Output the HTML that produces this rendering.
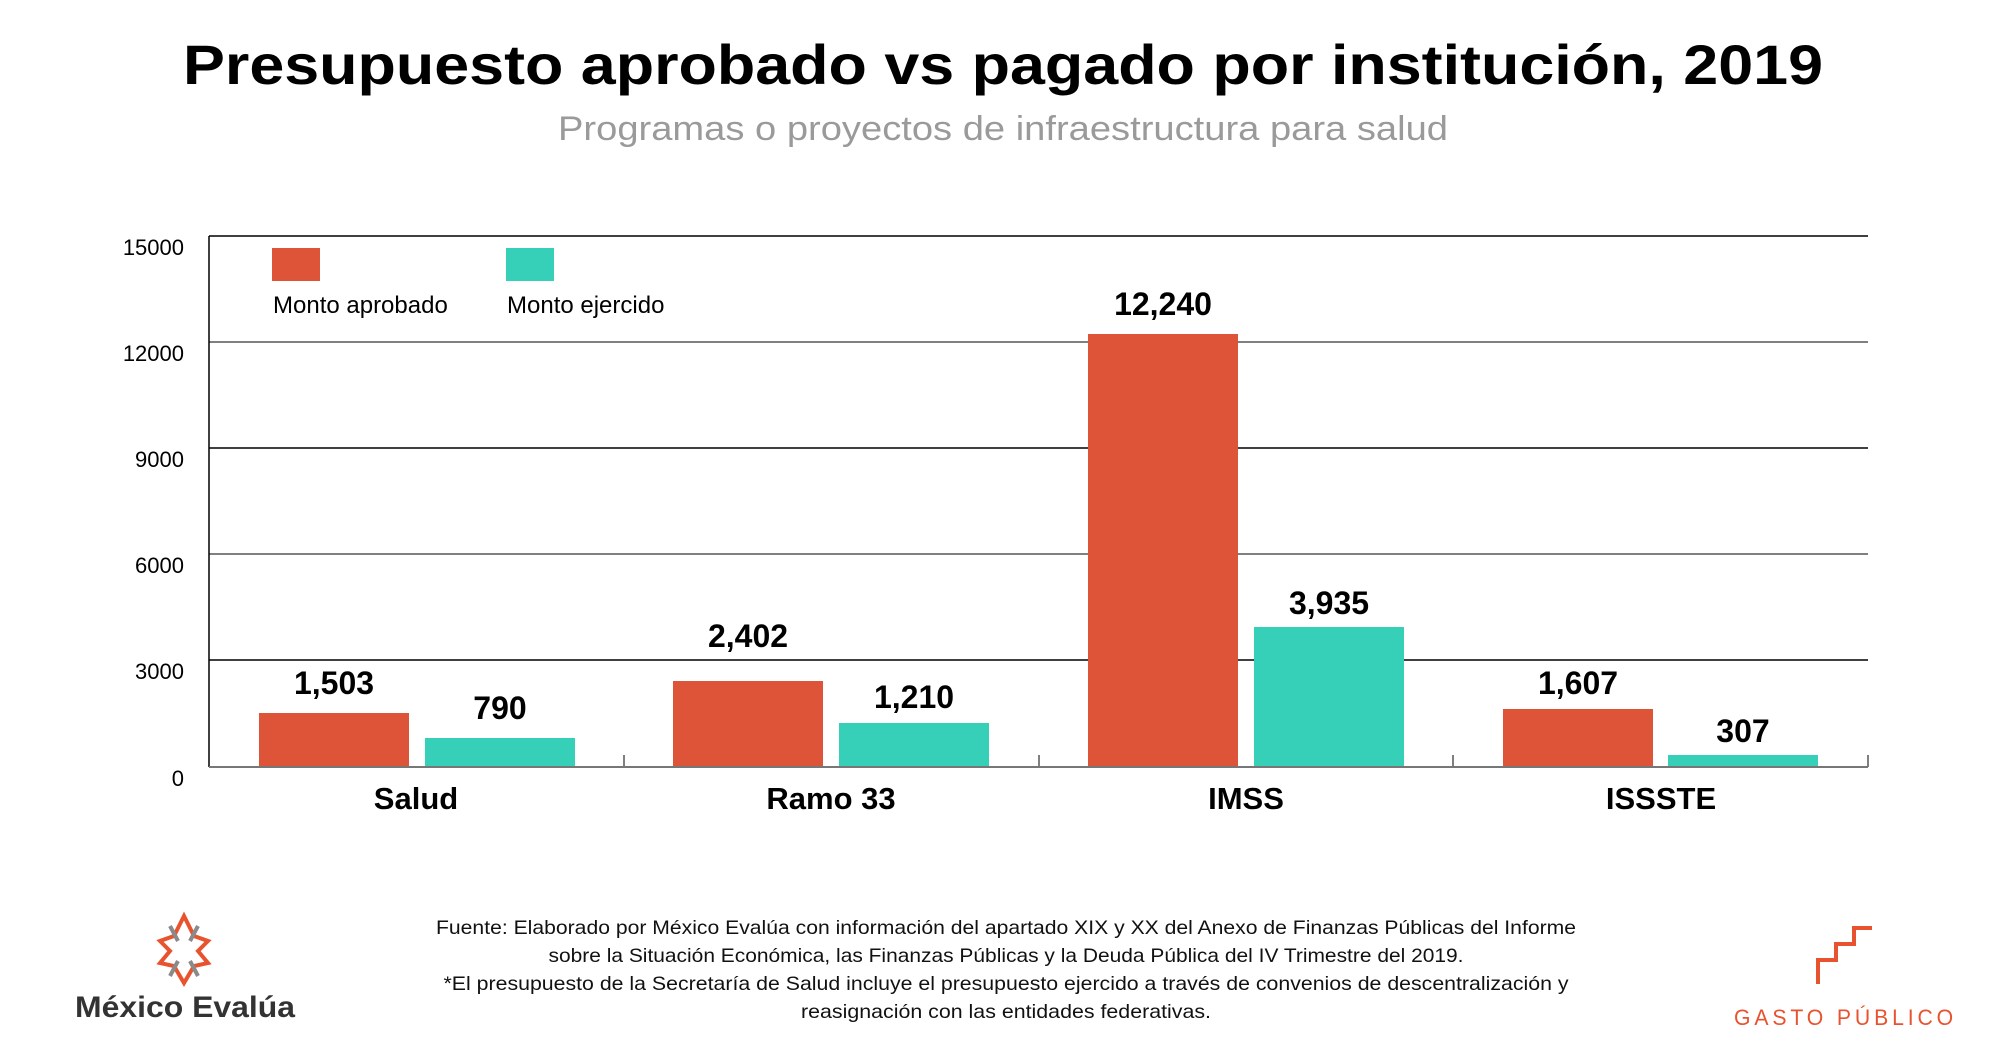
<!DOCTYPE html>
<html><head><meta charset="utf-8"><style>
html,body{margin:0;padding:0;background:#fff;}
svg{display:block;font-family:"Liberation Sans",sans-serif;}
</style></head><body>
<svg width="2000" height="1049" viewBox="0 0 2000 1049" xmlns="http://www.w3.org/2000/svg">
<text x="1003" y="84" text-anchor="middle" font-size="56" font-weight="bold" fill="#000" textLength="1640" lengthAdjust="spacingAndGlyphs">Presupuesto aprobado vs pagado por institución, 2019</text>
<text x="1003" y="140" text-anchor="middle" font-size="34" fill="#9a9a9a" textLength="890" lengthAdjust="spacingAndGlyphs">Programas o proyectos de infraestructura para salud</text>
<!-- grid -->
<line x1="209" y1="236" x2="1868" y2="236" stroke="#000" stroke-width="1.5"/>
<line x1="209" y1="342" x2="1868" y2="342" stroke="#808080" stroke-width="2"/>
<line x1="209" y1="448" x2="1868" y2="448" stroke="#000" stroke-width="1.5"/>
<line x1="209" y1="554" x2="1868" y2="554" stroke="#808080" stroke-width="2"/>
<line x1="209" y1="660" x2="1868" y2="660" stroke="#000" stroke-width="1.5"/>
<line x1="209" y1="236" x2="209" y2="767" stroke="#000" stroke-width="1.5"/>
<line x1="1868" y1="755" x2="1868" y2="767" stroke="#555" stroke-width="1.5"/>
<g stroke="#555" stroke-width="1.5"><line x1="624" y1="755" x2="624" y2="767"/><line x1="1039" y1="755" x2="1039" y2="767"/><line x1="1453" y1="755" x2="1453" y2="767"/></g>
<!-- y labels -->
<g font-size="22" fill="#000" text-anchor="end">
<text x="184" y="255">15000</text><text x="184" y="361">12000</text><text x="184" y="467">9000</text>
<text x="184" y="573">6000</text><text x="184" y="679">3000</text><text x="184" y="786">0</text>
</g>
<!-- bars -->
<g fill="#DE5439">
<rect x="259" y="713" width="150" height="53"/>
<rect x="673" y="681" width="150" height="85"/>
<rect x="1088" y="334" width="150" height="432"/>
<rect x="1503" y="709" width="150" height="57"/>
</g>
<g fill="#36CFB8">
<rect x="425" y="738" width="150" height="28"/>
<rect x="839" y="723" width="150" height="43"/>
<rect x="1254" y="627" width="150" height="139"/>
<rect x="1668" y="755" width="150" height="11"/>
</g>
<line x1="209" y1="767" x2="1868" y2="767" stroke="#777" stroke-width="2"/>
<!-- value labels -->
<g font-size="32" font-weight="bold" fill="#000" text-anchor="middle">
<text x="334" y="694">1,503</text><text x="500" y="719">790</text>
<text x="748" y="647">2,402</text><text x="914" y="708">1,210</text>
<text x="1163" y="315">12,240</text><text x="1329" y="614">3,935</text>
<text x="1578" y="694">1,607</text><text x="1743" y="742">307</text>
</g>
<!-- categories -->
<g font-size="31" font-weight="bold" fill="#000" text-anchor="middle">
<text x="416" y="809">Salud</text><text x="831" y="809">Ramo 33</text>
<text x="1246" y="809">IMSS</text><text x="1661" y="809">ISSSTE</text>
</g>
<!-- legend -->
<rect x="272" y="248" width="48" height="33" fill="#DE5439"/>
<rect x="506" y="248" width="48" height="33" fill="#36CFB8"/>
<text x="273" y="313" font-size="24" fill="#000">Monto aprobado</text>
<text x="507" y="313" font-size="24" fill="#000">Monto ejercido</text>
<!-- footer -->
<g font-size="19.5" fill="#111" text-anchor="middle">
<text x="1006" y="934" textLength="1140" lengthAdjust="spacingAndGlyphs">Fuente: Elaborado por México Evalúa con información del apartado XIX y XX del Anexo de Finanzas Públicas del Informe</text>
<text x="1006" y="962" textLength="915" lengthAdjust="spacingAndGlyphs">sobre la Situación Económica, las Finanzas Públicas y la Deuda Pública del IV Trimestre del 2019.</text>
<text x="1006" y="990" textLength="1125" lengthAdjust="spacingAndGlyphs">*El presupuesto de la Secretaría de Salud incluye el presupuesto ejercido a través de convenios de descentralización y</text>
<text x="1006" y="1018" textLength="410" lengthAdjust="spacingAndGlyphs">reasignación con las entidades federativas.</text>
</g>
<!-- logo left -->
<g stroke-width="4" fill="none" transform="translate(0,-9)">
<path d="M184 925 L174 945 L160 950 L170 960 L160 972 L174 975 L184 992 L194 975 L208 972 L198 960 L208 950 L194 945 Z" stroke="#E8532F"/>
<path d="M170 935 L178 950 M198 935 L190 950 M170 985 L178 970 M198 985 L190 970" stroke="#8a8a8a"/>
</g>
<text x="75" y="1017" font-size="30" font-weight="bold" fill="#333" textLength="220" lengthAdjust="spacingAndGlyphs">México Evalúa</text>
<!-- logo right -->
<path d="M1818 984 L1818 960 L1836 960 L1836 944 L1854 944 L1854 928 L1872 928" stroke="#E8532F" stroke-width="4" fill="none"/>
<text x="1734" y="1025" font-size="22" fill="#E8532F" letter-spacing="4" textLength="223" lengthAdjust="spacingAndGlyphs">GASTO PÚBLICO</text>
</svg>
</body></html>
